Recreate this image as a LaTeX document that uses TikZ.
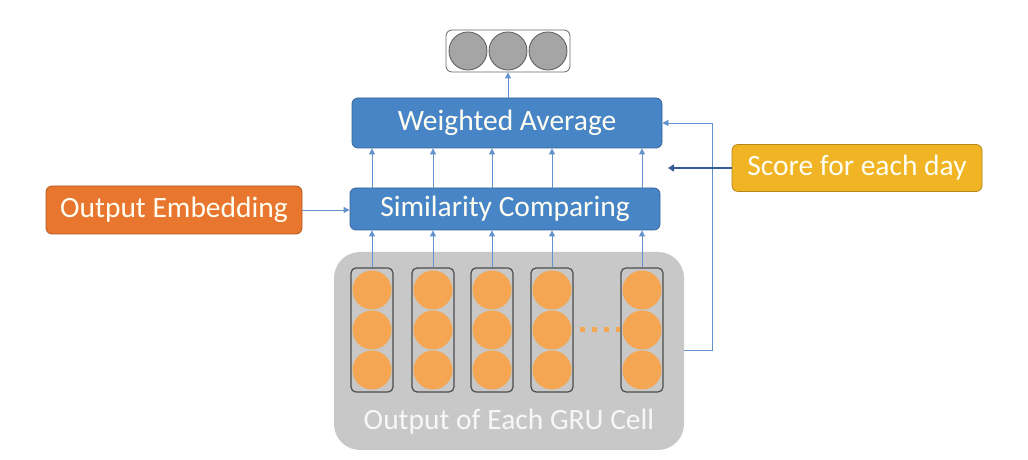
\documentclass[tikz,border=0pt]{standalone}
\usepackage{fontspec}
\setmainfont{Carlito}
\usetikzlibrary{arrows.meta}
\definecolor{boxblue}{RGB}{72,133,199}
\definecolor{lineblue}{RGB}{100,146,204}
\definecolor{darkblue}{RGB}{52,92,150}
\definecolor{embedorange}{RGB}{232,118,46}
\definecolor{scoregold}{RGB}{240,180,36}
\definecolor{cellorange}{RGB}{245,166,82}
\definecolor{gruback}{RGB}{200,200,200}
\definecolor{topgray}{RGB}{165,165,165}
\begin{document}
\begin{tikzpicture}[x=1pt,y=1pt,
	blk/.style={draw=#1!75!black, fill=#1, rounded corners=6pt, text=white!95!yellow,
		font=\fontsize{29.5}{34}\selectfont, inner sep=0pt, line width=0.8pt},
	link/.style={draw=lineblue, line width=0.8pt, -{Triangle[length=6pt,width=6pt]}},
	cellcol/.style={draw=black!70, rounded corners=5pt, line width=1.2pt,
		minimum width=42pt, minimum height=124pt, inner sep=0pt}
]

\useasboundingbox (0,0) rectangle (1028,460);

% gru outputs
\node[fill=gruback, rounded corners=26pt, minimum width=350pt, minimum height=198pt] (gru) at(509,109) {};
\node[text=white!94!gray, font=\fontsize{29.5}{34}\selectfont] (grulabel) at(509,38) {Output of Each GRU Cell};

\foreach \i\x in{1/372,2/433,3/492,4/552,5/642}{
	\foreach \y in{170,130,90}{
		\fill[cellorange] (\x,\y) circle (19.5);
	}
	\node[cellcol] (c\i) at(\x,130) {};
}
\draw[cellorange, line width=5pt, dash pattern=on 5pt off 7pt] (c4.east) ++(6,0) -- (c5.west);

% blocks
\node[blk=boxblue, minimum width=310pt, minimum height=42pt] (sim) at(505,251) {Similarity Comparing};
\node[blk=boxblue, minimum width=310pt, minimum height=50pt] (avg) at(507,337) {Weighted Average};
\node[blk=embedorange, minimum width=256pt, minimum height=48pt] (emb) at(174,250) {Output Embedding};
\node[blk=scoregold, minimum width=250pt, minimum height=47pt] (score) at(857,292) {Score for each day};

% result vector
\node[draw=black!60, fill=white, rounded corners=6pt, minimum width=124pt, minimum height=42pt, line width=0.8pt] (res) at(508,409) {};
\foreach \x in{468,508,548}{
	\draw[fill=topgray, draw=black!65, line width=0.8pt] (\x,409) circle (19);
}

% connectors
\foreach \i in{1,...,5}{
	\draw[link] (c\i.north) -- (c\i.north |- sim.south);
	\draw[link] (c\i.north |- sim.north) -- (c\i.north |- avg.south);
}
\draw[link] (emb.east) -- (emb.east -| sim.west);
\draw[link] (avg.north -| res.south) -- (res.south);
\coordinate (bend) at(712,110);
\draw[link] (gru.east |- bend) -- (bend) |- (avg.east);
\coordinate (scoretip) at(668,292);
\draw[darkblue, line width=2.6pt, -{Triangle[length=6pt,width=7pt]}] (score.west) -- (scoretip);

\end{tikzpicture}
\end{document}
